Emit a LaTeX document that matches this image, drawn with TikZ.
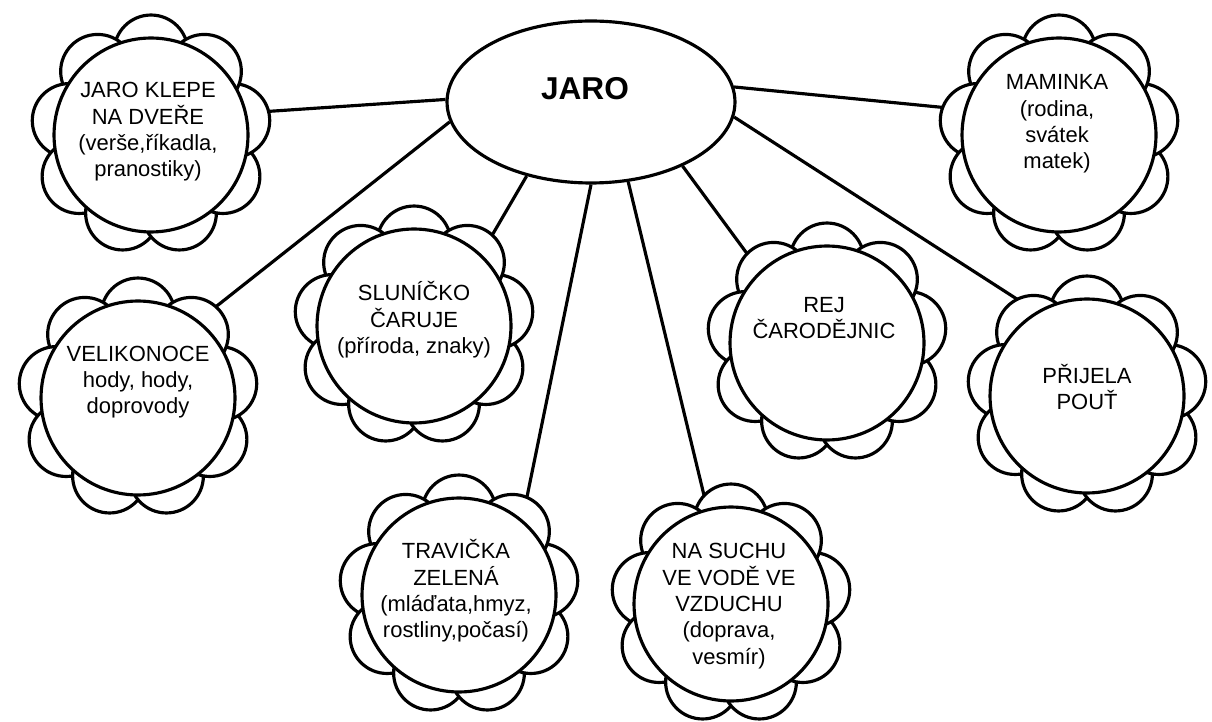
\documentclass[tikz,border=0pt]{standalone}
\usepackage{fontspec}
\setmainfont{Liberation Sans}
\usetikzlibrary{shapes.geometric}
\pgfdeclarelayer{back}
\pgfdeclarelayer{mid}
\pgfsetlayers{back,mid,main}

\begin{document}
\begin{tikzpicture}[
        x=0.02cm, y=-0.02cm,
        hub/.style={ellipse, draw=black, line width=1.8pt, fill=white,
                    minimum width=5.76cm, minimum height=3.24cm, inner sep=0pt},
        bloom/.style={circle, draw=black, line width=1.8pt, fill=white,
                    minimum size=3.88cm, inner sep=0pt},
        petal/.style={draw=black, line width=1.8pt, fill=white},
        blurb/.style={align=center, inner sep=0pt,
                    font=\fontsize{12.5}{15}\selectfont},
        link/.style={line width=1.8pt}
    ]
        \useasboundingbox (0,0) rectangle (1212,722);

        \node[hub] (jaro) at (591,102) {};
        \node[font=\fontsize{18}{20}\selectfont\bfseries] (jarotext) at (585,89) {JARO};

        \node[bloom] (jkd) at (151,135) {};
        \node[bloom] (mam) at (1059,135) {};
        \node[bloom] (velik) at (138,398) {};
        \node[bloom] (slun) at (414,326) {};
        \node[bloom] (rej) at (827,343) {};
        \node[bloom] (prij) at (1087,396) {};
        \node[bloom] (trav) at (459,595) {};
        \node[bloom] (suchu) at (731,604) {};

        \node[blurb] (jkdtext) at (148,132) {JARO KLEPE\\NA DVEŘE\\(verše,říkadla,\\pranostiky)};
        \node[blurb] (mamtext) at (1057,124) {MAMINKA\\(rodina,\\svátek\\matek)};
        \node[blurb] (veliktext) at (138,382) {VELIKONOCE\\hody, hody,\\doprovody};
        \node[blurb] (sluntext) at (414,320) {SLUNÍČKO\\ČARUJE\\(příroda, znaky)};
        \node[blurb] (rejtext) at (824,318) {REJ\\ČARODĚJNIC};
        \node[blurb] (prijtext) at (1087,387) {PŘIJELA\\POUŤ};
        \node[blurb] (travtext) at (456,591) {TRAVIČKA\\ZELENÁ\\(mláďata,hmyz,\\rostliny,počasí)};
        \node[blurb] (suchutext) at (729,606) {NA SUCHU\\VE VODĚ VE\\VZDUCHU\\(doprava,\\vesmír)};

        \begin{pgfonlayer}{mid}
        \foreach \f in {jkd,mam,velik,slun,rej,prij,trav,suchu}
            \foreach \a in {90,130,...,410}
                \draw[petal] (\f.center) ++(\a:1.66cm) circle (0.74cm);
        \end{pgfonlayer}

        \begin{pgfonlayer}{back}
        \draw[link] (jaro.179) -- (jkd.13);
        \draw[link] (jaro.188) -- (velik.52);
        \draw[link] (jaro.229) -- (slun.47);
        \draw[link] (jaro.270) -- (trav.50);
        \draw[link] (jaro.295) -- (suchu.104);
        \draw[link] (jaro.325) -- (rej.133);
        \draw[link] (jaro.354) -- (prij.121);
        \draw[link] (jaro.6) -- (mam.165);
        \end{pgfonlayer}
    \end{tikzpicture}
\end{document}
